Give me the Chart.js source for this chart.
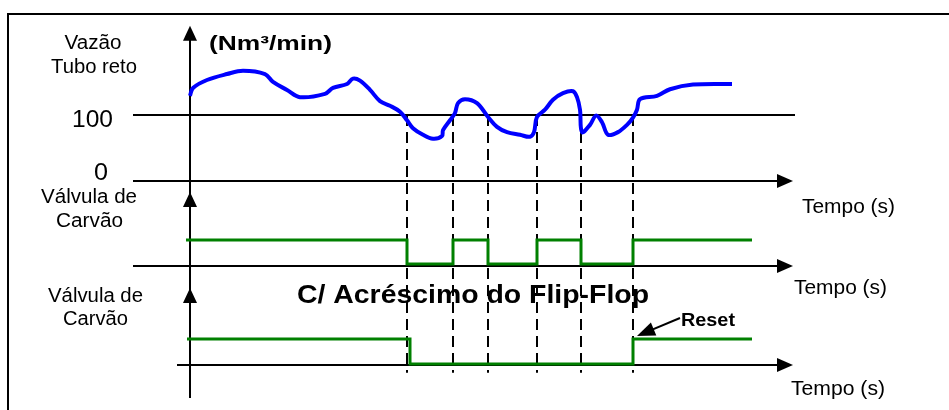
<!DOCTYPE html>
<html>
<head>
<meta charset="utf-8">
<script src="https://cdn.jsdelivr.net/npm/chart.js@4.4.0/dist/chart.umd.min.js"></script>
<style>
  html, body { margin: 0; padding: 0; background: #fff; }
  #wrap { width: 949px; height: 410px; }
</style>
</head>
<body>
<div id="wrap"><canvas id="flipChart" width="949" height="410"></canvas></div>
<script>
// flow through the straight tube (Nm3/min) against time (s)
var flowTime = [0, 0.6, 3.4, 7.4, 10.6, 15, 16.6, 19.4, 22, 27, 28.6, 31.4, 32.6, 34, 36, 38, 40, 42,
    43.4, 44.6, 46.6, 48.6, 50.4, 50.6, 52, 53, 53.6, 55, 57.4, 59.6, 61.4, 63.4, 66, 68, 68.8,
    69.4, 71, 72.6, 74.6, 76.6, 77.4, 78, 78.4, 80, 81.2, 82.4, 83.6, 85.6, 87.4, 88.6, 89.4,
    90, 93.4, 96, 100.6, 108.4];
var flowRate = [129, 141, 153, 162, 167, 162, 150, 138, 127, 132, 141, 147, 155, 152, 138, 121, 114, 105,
    92, 80, 70, 64, 68, 77, 92, 103, 118, 124, 118, 97, 82, 74, 70, 67, 74,
    97, 108, 123, 133, 136, 127, 108, 74, 85, 99, 89, 70, 74, 85, 96, 108,
    124, 129, 139, 146, 147];

// coal valve, plain control (1 = open, 0 = closed)
var valve1Time = [-0.8, 43.4, 52.6, 59.6, 69.4, 78.2, 88.6, 112.4];
var valve1State = [1, 0, 1, 0, 1, 0, 1, 1];

// coal valve with the flip-flop added
var valve2Time = [-0.6, 44, 88.6, 112.4];
var valve2State = [1, 0, 1, 1];

// instants where the flow crosses the 100 line
var crossTimes = [43.4, 52.6, 59.6, 69.4, 78.2, 88.6];
var resetTime = 88.6;
var refLevel = 100;
var flowTicks = [0, 100];
var flowTickLabels = ['0', '100'];

function pts(xs, ys) {
    return xs.map(function (x, i) { return { x: x, y: ys[i] }; });
}

var FONT = "Arial, 'Liberation Sans', sans-serif";

// text scaled to a measured width
function fitText(ctx, txt, x, y, size, bold, width, align) {
    ctx.save();
    ctx.font = (bold ? 'bold ' : '') + size + 'px ' + FONT;
    var w = ctx.measureText(txt).width;
    var k = width ? width / w : 1;
    var left = x;
    if (align === 'center') left = x - w * k / 2;
    if (align === 'right') left = x - w * k;
    ctx.translate(left, y);
    ctx.scale(k, 1);
    ctx.textAlign = 'left';
    ctx.textBaseline = 'alphabetic';
    ctx.fillStyle = '#000';
    ctx.fillText(txt, 0, 0);
    ctx.restore();
}

function arrowUp(ctx, x, y) {
    ctx.beginPath();
    ctx.moveTo(x, y);
    ctx.lineTo(x - 7, y + 15);
    ctx.lineTo(x + 7, y + 15);
    ctx.closePath();
    ctx.fill();
}

function arrowRight(ctx, x, y) {
    ctx.beginPath();
    ctx.moveTo(x, y);
    ctx.lineTo(x - 16, y - 7);
    ctx.lineTo(x - 16, y + 7);
    ctx.closePath();
    ctx.fill();
}

var frameAxes = {
    id: 'frameAxes',
    beforeDatasetsDraw: function (chart) {
        var ctx = chart.ctx;
        var xs = chart.scales.x, yf = chart.scales.y, y1 = chart.scales.y1, y2 = chart.scales.y2;
        ctx.save();
        ctx.strokeStyle = '#000';
        ctx.fillStyle = '#000';

        // outer frame
        ctx.lineWidth = 2;
        ctx.strokeRect(8, 14, 1000, 500);

        var x0 = xs.getPixelForValue(0);
        var left = xs.getPixelForValue(-11.4);
        var tip = xs.getPixelForValue(120.6);

        // vertical time axis
        ctx.beginPath();
        ctx.moveTo(x0, y2.getPixelForValue(-1.36));
        ctx.lineTo(x0, yf.getPixelForValue(230));
        ctx.stroke();
        arrowUp(ctx, x0, yf.getPixelForValue(235));
        arrowUp(ctx, x0, y1.getPixelForValue(3));
        arrowUp(ctx, x0, y2.getPixelForValue(3.04));

        // flow reference line
        ctx.lineWidth = 2;
        ctx.beginPath();
        ctx.moveTo(left, yf.getPixelForValue(refLevel));
        ctx.lineTo(xs.getPixelForValue(121), yf.getPixelForValue(refLevel));
        ctx.stroke();

        // time axes
        var rows = [
            [left, yf.getPixelForValue(0)],
            [left, y1.getPixelForValue(0) + 2],
            [xs.getPixelForValue(-2.6), y2.getPixelForValue(0) + 1]
        ];
        rows.forEach(function (r) {
            ctx.beginPath();
            ctx.moveTo(r[0], r[1]);
            ctx.lineTo(tip - 10, r[1]);
            ctx.stroke();
            arrowRight(ctx, tip, r[1]);
        });

        // dashed crossing markers
        ctx.lineWidth = 2;
        ctx.setLineDash([11, 6]);
        crossTimes.forEach(function (t) {
            var px = Math.round(xs.getPixelForValue(t));
            ctx.beginPath();
            ctx.moveTo(px, yf.getPixelForValue(refLevel));
            ctx.lineTo(px, y2.getPixelForValue(-0.35));
            ctx.stroke();
        });
        ctx.restore();
    },
    afterDatasetsDraw: function (chart) {
        var ctx = chart.ctx;
        var xs = chart.scales.x, yf = chart.scales.y, y2 = chart.scales.y2;

        fitText(ctx, 'Vazão', 93, 49, 20, false, 57, 'center');
        fitText(ctx, 'Tubo reto', 94, 73, 20, false, 86, 'center');
        fitText(ctx, '(Nm³/min)', 209, 50, 21, true, 123, 'left');
        fitText(ctx, flowTickLabels[1], 113, yf.getPixelForValue(flowTicks[1]) + 12, 24, false, 41, 'right');
        fitText(ctx, flowTickLabels[0], 108, yf.getPixelForValue(flowTicks[0]) - 1, 24, false, 14, 'right');

        fitText(ctx, 'Válvula de', 89, 203, 20, false, 96, 'center');
        fitText(ctx, 'Carvão', 89.5, 227, 20, false, 67, 'center');
        fitText(ctx, 'Válvula de', 95.5, 302, 20, false, 95, 'center');
        fitText(ctx, 'Carvão', 95.5, 325, 20, false, 65, 'center');

        fitText(ctx, 'Tempo (s)', 802, 213, 20, false, 93, 'left');
        fitText(ctx, 'Tempo (s)', 794, 294, 20, false, 93, 'left');
        fitText(ctx, 'Tempo (s)', 791, 395, 20, false, 94, 'left');

        fitText(ctx, 'C/ Acréscimo do Flip-Flop', 297, 303, 25, true, 352, 'left');
        fitText(ctx, 'Reset', 681, 326, 18, true, 54, 'left');

        // reset pointer
        var tx = xs.getPixelForValue(resetTime) + 4;
        var ty = y2.getPixelForValue(1) - 3;
        var sx = 680, sy = 318;
        var a = Math.atan2(ty - sy, tx - sx);
        ctx.save();
        ctx.strokeStyle = '#000';
        ctx.fillStyle = '#000';
        ctx.lineWidth = 2;
        ctx.beginPath();
        ctx.moveTo(sx, sy);
        ctx.lineTo(tx - 12 * Math.cos(a), ty - 12 * Math.sin(a));
        ctx.stroke();
        ctx.beginPath();
        ctx.moveTo(tx, ty);
        ctx.lineTo(tx - 18 * Math.cos(a) + 7 * Math.sin(a), ty - 18 * Math.sin(a) - 7 * Math.cos(a));
        ctx.lineTo(tx - 18 * Math.cos(a) - 7 * Math.sin(a), ty - 18 * Math.sin(a) + 7 * Math.cos(a));
        ctx.closePath();
        ctx.fill();
        ctx.restore();
    }
};

var chart = new Chart(document.getElementById('flipChart'), {
    type: 'line',
    data: {
        datasets: [{
            label: 'Vazão',
            data: pts(flowTime, flowRate),
            yAxisID: 'y',
            borderColor: '#0000ff',
            borderWidth: 4,
            tension: 0.35,
            pointRadius: 0,
            fill: false
        }, {
            label: 'Válvula',
            data: pts(valve1Time, valve1State),
            yAxisID: 'y1',
            borderColor: '#008000',
            borderWidth: 3,
            stepped: 'before',
            pointRadius: 0,
            fill: false
        }, {
            label: 'Válvula flip-flop',
            data: pts(valve2Time, valve2State),
            yAxisID: 'y2',
            borderColor: '#008000',
            borderWidth: 3,
            stepped: 'before',
            pointRadius: 0,
            fill: false
        }]
    },
    options: {
        responsive: false,
        animation: false,
        devicePixelRatio: 1,
        layout: { padding: 0 },
        plugins: { legend: { display: false }, tooltip: { enabled: false } },
        scales: {
            x: { type: 'linear', min: -38, max: 151.8, display: false },
            y: { type: 'linear', min: -347, max: 274.2, display: false },
            y1: { type: 'linear', min: -6.083, max: 11, display: false },
            y2: { type: 'linear', min: -1.84, max: 14.56, display: false }
        }
    },
    plugins: [frameAxes]
});
</script>
</body>
</html>
